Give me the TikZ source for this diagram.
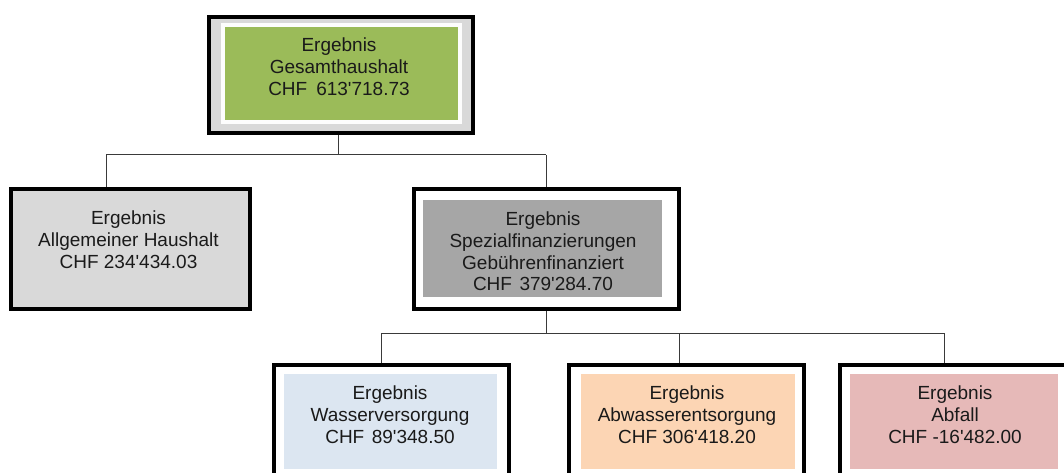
\documentclass[tikz,border=0pt]{standalone}
\usepackage{fontspec}
\setmainfont{Liberation Sans}[Ligatures=TeXOff]
\definecolor{topgreen}{HTML}{9BBB59}
\definecolor{lgray}{HTML}{D9D9D9}
\definecolor{mgray}{HTML}{A6A6A6}
\definecolor{lblue}{HTML}{DCE6F1}
\definecolor{peach}{HTML}{FCD5B4}
\definecolor{pink}{HTML}{E6B9B8}
\definecolor{txtc}{HTML}{1A1A1A}
\definecolor{linec}{HTML}{3A3A3A}
\begin{document}
\begin{tikzpicture}[x=1pt,y=-1pt,
  obox/.style={draw=black, line width=3.6pt, inner sep=0pt, anchor=north west},
  txt/.style={align=center, inner sep=0pt, text=txtc, font=\fontsize{19}{21.8}\selectfont},
  conn/.style={draw=linec, line width=1pt}]
\clip (0,0) rectangle (1064,473);
\fill[white] (0,0) rectangle (1064,473);
% top
\node[obox, fill=lgray, minimum width=264pt, minimum height=116pt] (top) at (207,15) {};
\fill[white!95!lgray] (221,23) rectangle (462,124);
\fill[topgreen] (225,27) rectangle (458,120);
\node[txt] (topt) at (339,67) {Ergebnis\\Gesamthaushalt\\CHF\hspace{9pt}613'718.73};
% left
\node[obox, fill=lgray, minimum width=239pt, minimum height=120pt] (left) at (9,187) {};
\node[txt] (leftt) at (128.5,240) {Ergebnis\\Allgemeiner Haushalt\\CHF 234'434.03};
% middle
\node[obox, fill=white, minimum width=265pt, minimum height=120pt] (mid) at (412,187) {};
\fill[mgray] (423,200) rectangle (662,297);
\node[txt] (midt) at (543,251.5) {Ergebnis\\Spezialfinanzierungen\\Gebührenfinanziert\\CHF\hspace{7.5pt}379'284.70};
% bottom
\node[obox, fill=white, minimum width=235pt, minimum height=125pt] (wass) at (272,363) {};
\fill[lblue] (284,374) rectangle (497,469);
\node[txt] (wasst) at (390,415) {Ergebnis\\Wasserversorgung\\CHF\hspace{7.5pt}89'348.50};
\node[obox, fill=white, minimum width=235pt, minimum height=125pt] (abw) at (567,363) {};
\fill[peach] (581,374) rectangle (795,469);
\node[txt] (abwt) at (687,415) {Ergebnis\\Abwasserentsorgung\\CHF 306'418.20};
\node[obox, fill=white, minimum width=250pt, minimum height=125pt] (abf) at (838,363) {};
\fill[pink] (850,374) rectangle (1058,469);
\node[txt] (abft) at (955,415) {Ergebnis\\Abfall\\CHF -16'482.00};
% connectors level 1
\coordinate (j1) at (338,155);
\coordinate (l1) at (106,155);
\coordinate (m1) at (546,155);
\draw[conn] (top.south -| j1) -- (j1);
\draw[conn] (l1) -- (m1);
\draw[conn] (l1) -- (l1 |- left.north);
\draw[conn] (m1) -- (m1 |- mid.north);
% connectors level 2
\coordinate (j2) at (546,333);
\coordinate (w1) at (381,333);
\coordinate (a1) at (679,333);
\coordinate (f1) at (944,333);
\draw[conn] (mid.south -| j2) -- (j2);
\draw[conn] (w1) -- (f1);
\draw[conn] (w1) -- (w1 |- wass.north);
\draw[conn] (a1) -- (a1 |- abw.north);
\draw[conn] (f1) -- (f1 |- abf.north);
\end{tikzpicture}
\end{document}
